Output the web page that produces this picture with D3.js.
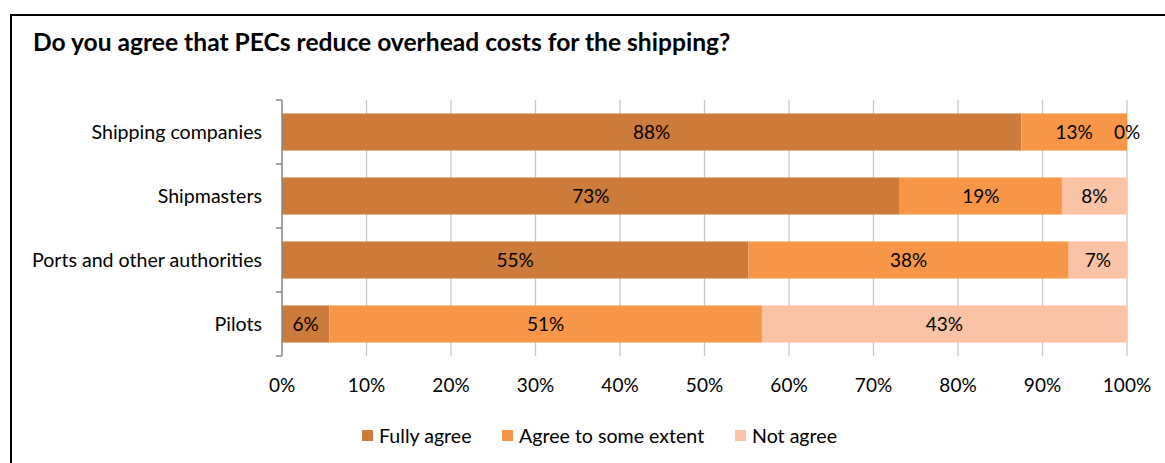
<!DOCTYPE html>
<html>
<head>
<meta charset="utf-8">
<script src="https://cdn.jsdelivr.net/npm/d3@7"></script>
<style>
  html, body { margin: 0; padding: 0; background: #fff; }
  svg { display: block; font-family: Lato, "Liberation Sans", sans-serif; }
</style>
</head>
<body>
<svg id="chart" width="1165" height="463"></svg>
<script>
// Survey responses (% of respondents per group)
const categories = ["Shipping companies", "Shipmasters", "Ports and other authorities", "Pilots"];
const fullyAgree = [87.5, 73.1, 55.2, 5.6];
const agreeSomeExtent = [12.5, 19.2, 37.9, 51.2];
const notAgree = [0, 7.7, 6.9, 43.2];
const seriesNames = ["Fully agree", "Agree to some extent", "Not agree"];
const xTicks = [0, 10, 20, 30, 40, 50, 60, 70, 80, 90, 100];
const title = "Do you agree that PECs reduce overhead costs for the shipping?";

const colors = ["#cd7b3a", "#f79646", "#fac3a5"];

const rows = categories.map((c, i) => ({
  category: c,
  "Fully agree": fullyAgree[i],
  "Agree to some extent": agreeSomeExtent[i],
  "Not agree": notAgree[i]
}));

const svg = d3.select("#chart");

// outer frame
svg.append("path")
  .attr("d", "M11,470 L11,15 L1175,15")
  .attr("fill", "none")
  .attr("stroke", "#000")
  .attr("stroke-width", 2);

svg.append("text")
  .attr("x", 33).attr("y", 51)
  .attr("font-size", 24.6)
  .attr("font-weight", "bold")
  .attr("fill", "#000")
  .text(title);

const x = d3.scaleLinear().domain([0, 100]).range([282, 1127]);
const y = d3.scaleBand().domain(categories).range([100, 356]).paddingInner(0.42).paddingOuter(0.21);

// vertical gridlines
svg.append("g")
  .selectAll("line")
  .data(xTicks.filter(t => t > 0))
  .join("line")
  .attr("x1", d => x(d)).attr("x2", d => x(d))
  .attr("y1", 100).attr("y2", 356)
  .attr("stroke", "#c8c8c8")
  .attr("stroke-width", 1.3);

// stacked bars
const stack = d3.stack().keys(seriesNames)(rows);
const layers = svg.append("g")
  .selectAll("g")
  .data(stack)
  .join("g")
  .attr("fill", (d, i) => colors[i]);

layers.selectAll("rect")
  .data(d => d)
  .join("rect")
  .attr("x", d => x(d[0]))
  .attr("width", d => x(d[1]) - x(d[0]))
  .attr("y", d => y(d.data.category))
  .attr("height", y.bandwidth());

// value labels
layers.selectAll("text")
  .data(d => d)
  .join("text")
  .attr("x", d => (x(d[0]) + x(d[1])) / 2)
  .attr("y", d => y(d.data.category) + y.bandwidth() / 2)
  .attr("dy", "0.36em")
  .attr("text-anchor", "middle")
  .attr("font-size", 19)
  .attr("fill", "#000")
  .text(d => Math.round(d[1] - d[0]) + "%");

// category axis
const yAxis = svg.append("g").attr("transform", "translate(282,0)");
yAxis.append("line")
  .attr("x1", 0).attr("x2", 0).attr("y1", 100).attr("y2", 356)
  .attr("stroke", "#868686").attr("stroke-width", 1.5);
const bounds = categories.map(c => y(c) - y.step() * y.paddingOuter()).concat([356]);
yAxis.selectAll("line.tick")
  .data(bounds)
  .join("line")
  .attr("class", "tick")
  .attr("x1", -6).attr("x2", 0)
  .attr("y1", d => d).attr("y2", d => d)
  .attr("stroke", "#868686").attr("stroke-width", 1.5);
yAxis.selectAll("text")
  .data(categories)
  .join("text")
  .attr("x", -20)
  .attr("y", d => y(d) + y.bandwidth() / 2)
  .attr("dy", "0.36em")
  .attr("text-anchor", "end")
  .attr("font-size", 19.6)
  .attr("fill", "#000")
  .text(d => d);

// percentage axis labels
svg.append("g")
  .selectAll("text")
  .data(xTicks)
  .join("text")
  .attr("x", d => x(d))
  .attr("y", 392)
  .attr("text-anchor", "middle")
  .attr("font-size", 19)
  .attr("fill", "#000")
  .text(d => d + "%");

// legend
const legendX = [362, 502, 735];
const legend = svg.append("g")
  .selectAll("g")
  .data(seriesNames)
  .join("g")
  .attr("transform", (d, i) => `translate(${legendX[i]},430)`);
legend.append("rect")
  .attr("width", 11).attr("height", 11)
  .attr("fill", (d, i) => colors[i]);
legend.append("text")
  .attr("x", 17).attr("y", 5.5)
  .attr("dy", "0.36em")
  .attr("font-size", 19.6)
  .attr("fill", "#000")
  .text(d => d);
</script>
</body>
</html>
